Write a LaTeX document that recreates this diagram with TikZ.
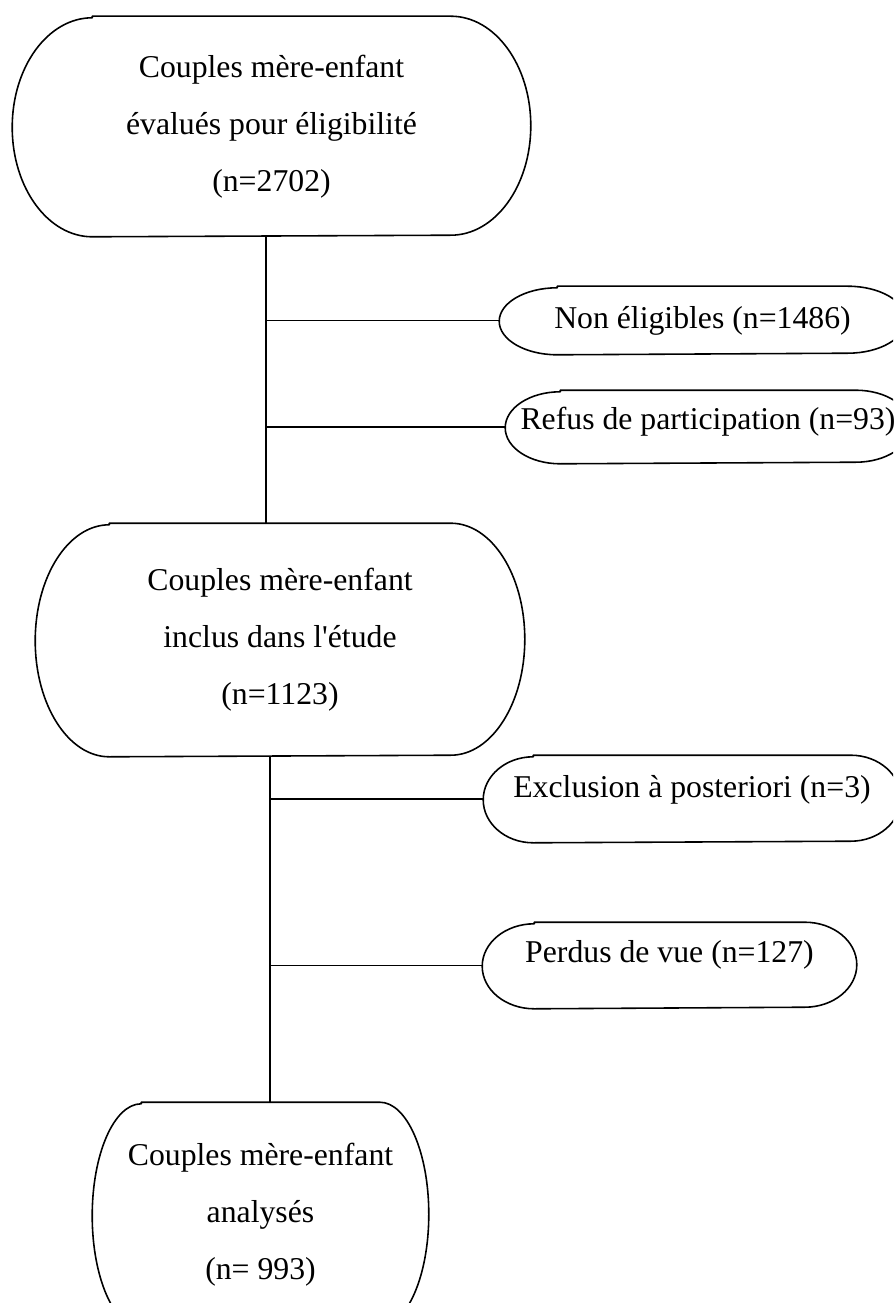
\documentclass[tikz,border=0pt]{standalone}
\usepackage{fontspec}
\setmainfont{Liberation Serif}
\def\u{0.378pt}
% outline of a flow box: node, corner x radius, height (px)
\newcommand\capsule[3]{\draw ([xshift=#2*\u]#1.north west) -- ([xshift=-#2*\u]#1.north east)
	arc[start angle=90, end angle=-90, x radius=#2*\u, y radius=#3*\u/2]
	-- ([xshift=#2*\u]#1.south west)
	arc[start angle=270, end angle=90, x radius=#2*\u, y radius=#3*\u/2] -- cycle;}
\begin{document}
\begin{tikzpicture}[x=\u, y=-\u, line width=.6pt, line join=round, line cap=round,
		font=\fontsize{12pt}{21.5pt}\selectfont,
		every node/.style={inner sep=0pt, align=center},
		flowbox/.style 2 args={minimum width=#1*\u, minimum height=#2*\u},
		lift/.style={text height=8.5pt, text depth=#1}]
	\useasboundingbox (0,0) rectangle (893,1303);
	\clip (0,0) rectangle (893,1303);
	% main boxes
	\node[flowbox={517}{219}] (b1) at (271.5,126.5) {Couples mère-enfant\\évalués pour éligibilité\\(n=2702)};
	\node[flowbox={488}{232}] (b2) at (280,640) {Couples mère-enfant\\inclus dans l\textquotesingle étude\\(n=1123)};
	\node[flowbox={335}{224}] (b3) at (260.5,1215) {Couples mère-enfant\\analysés\\(n= 993)};
	% side boxes
	\node[flowbox={405}{67}] (nonel) at (702.5,320.5) {Non éligibles (n=1486)};
	\node[flowbox={404}{72}, lift=6.5pt] (refus) at (708,427) {Refus de participation (n=93)};
	\node[flowbox={416}{86}, lift=9.8pt] (excl) at (692,799) {Exclusion à posteriori (n=3)};
	\node[flowbox={373}{85}, lift=10.5pt] (perdus) at (669.5,965.5) {Perdus de vue (n=127)};
	\capsule{b1}{80}{219} \capsule{b2}{74}{232} \capsule{b3}{49}{224}
	\capsule{nonel}{58}{67} \capsule{refus}{55}{72}
	\capsule{excl}{50}{86} \capsule{perdus}{52}{85}
	% connectors
	\coordinate (t1) at (266,0); \coordinate (t2) at (270,0);
	\draw (t1 |- b1.south) -- (t1 |- b2.north);
	\draw (t2 |- b2.south) -- (t2 |- b3.north);
	\foreach \b in {nonel,refus} \draw (t1 |- \b.west) -- (\b.west);
	\foreach \b in {excl,perdus} \draw (t2 |- \b.west) -- (\b.west);
\end{tikzpicture}
\end{document}
